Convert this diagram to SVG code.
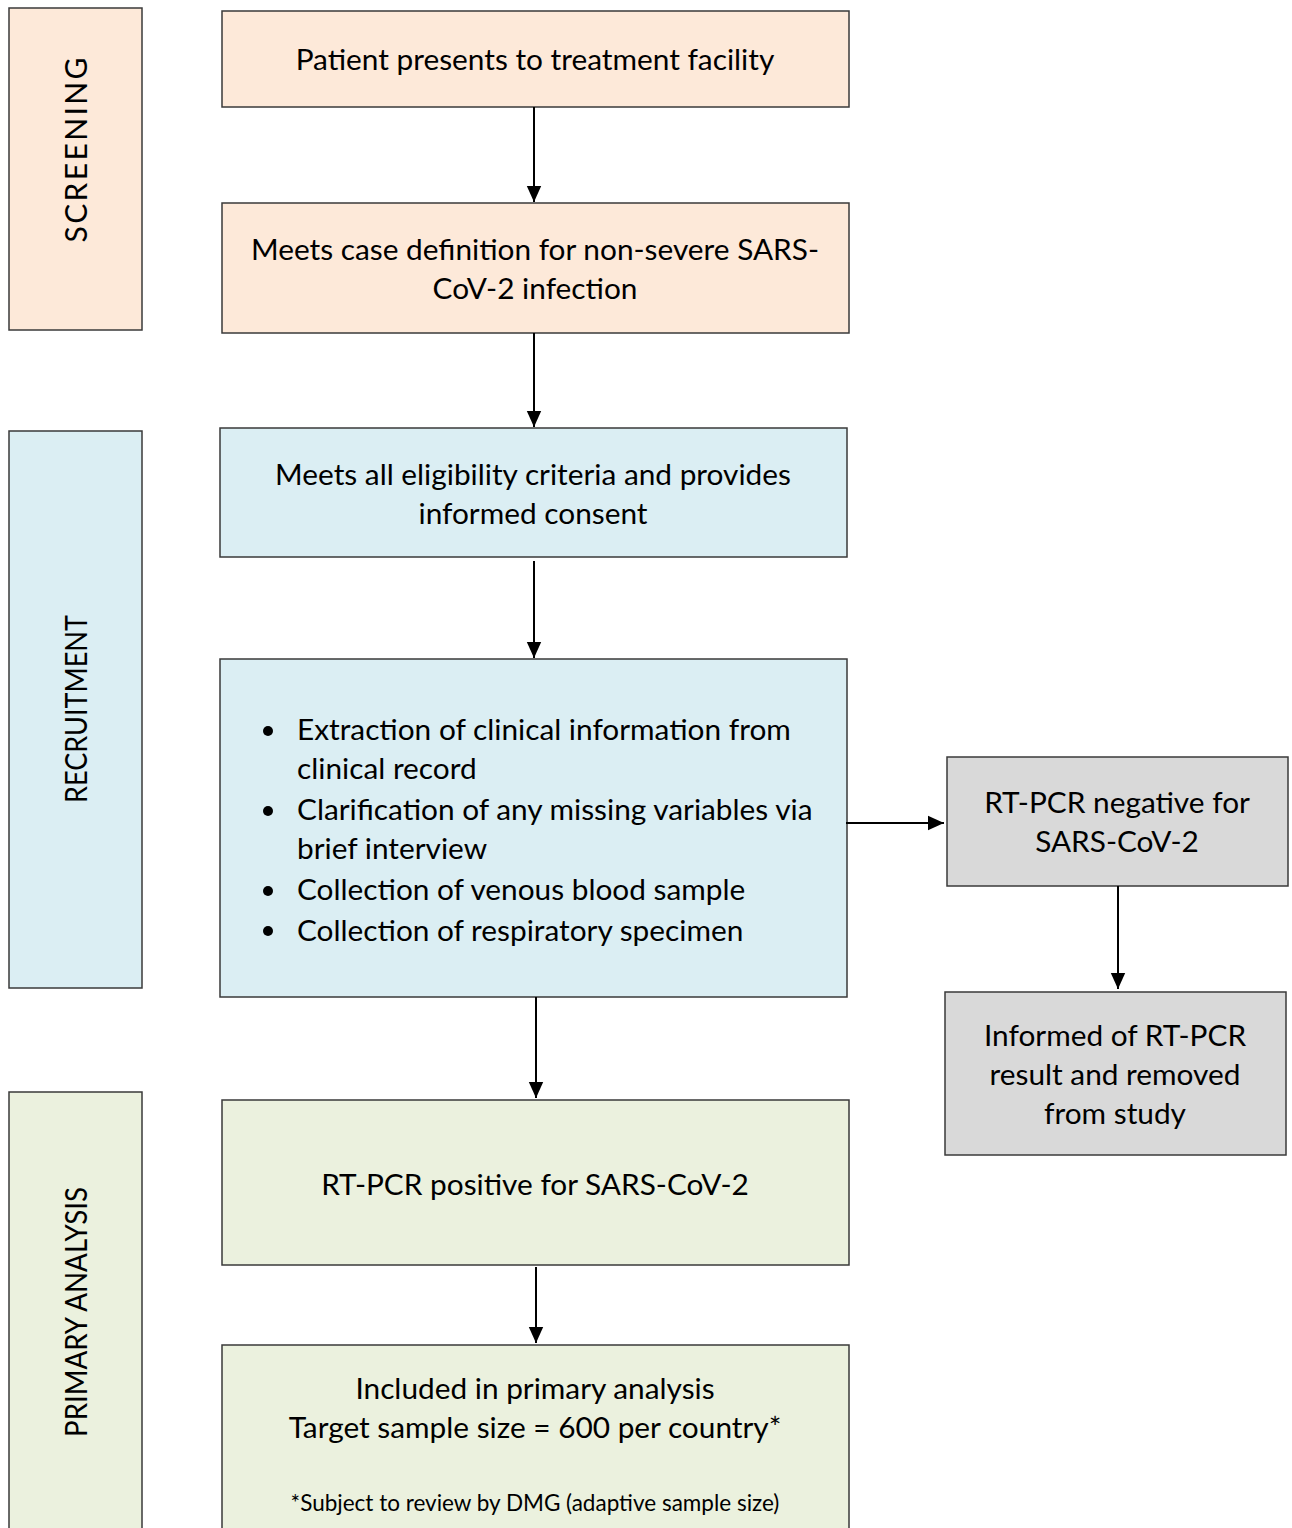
<svg xmlns="http://www.w3.org/2000/svg" width="1292" height="1528" viewBox="0 0 1292 1528">
<defs>
<marker id="ah" viewBox="0 0 10 10" refX="10" refY="5" markerWidth="16" markerHeight="16" markerUnits="userSpaceOnUse" orient="auto">
<path d="M0,0.5 L10,5 L0,9.5 z" fill="#000"/>
</marker>
<style>
rect{stroke:#3a3a3a;stroke-width:1.5}
.pe{fill:#FDE9D9}.bl{fill:#DBEEF3}.gr{fill:#D9D9D9}.gn{fill:#EBF1DE}
text{font-family:Lato,"Liberation Sans",sans-serif;font-size:29.8px;fill:#000;text-anchor:middle}
.lt{text-anchor:start}
.sm{font-size:22.5px}
.side{font-size:30px}
.cn line{stroke:#000;stroke-width:2;marker-end:url(#ah)}
</style>
</defs>
<rect width="1292" height="1528" fill="#fff" style="stroke:none"/>
<g id="screening"><rect class="pe" x="9" y="8" width="133" height="322"/><text class="side" transform="translate(87,150) rotate(-90)" textLength="185" lengthAdjust="spacing">SCREENING</text></g>
<g id="recruitment"><rect class="bl" x="9" y="431" width="133" height="557"/><text class="side" transform="translate(87,709) rotate(-90)" textLength="188" lengthAdjust="spacingAndGlyphs">RECRUITMENT</text></g>
<g id="primary"><rect class="gn" x="9" y="1092" width="133" height="450"/><text class="side" transform="translate(87,1312) rotate(-90)" textLength="250" lengthAdjust="spacingAndGlyphs">PRIMARY ANALYSIS</text></g>
<g id="n1"><rect class="pe" x="222" y="11" width="627" height="96"/><text x="535" y="70">Patient presents to treatment facility</text></g>
<g id="n2"><rect class="pe" x="222" y="203" width="627" height="130"/><text x="535" y="260">Meets case definition for non-severe SARS-</text><text x="535" y="299">CoV-2 infection</text></g>
<g id="n3"><rect class="bl" x="220" y="428" width="627" height="129"/><text x="533" y="485">Meets all eligibility criteria and provides</text><text x="533" y="524">informed consent</text></g>
<g id="n4"><rect class="bl" x="220" y="659" width="627" height="338"/>
<g fill="#000"><circle cx="268" cy="731" r="5"/><circle cx="268" cy="811" r="5"/><circle cx="268" cy="891" r="5"/><circle cx="268" cy="931" r="5"/></g>
<text class="lt" x="297" y="740">Extraction of clinical information from</text>
<text class="lt" x="297" y="779">clinical record</text>
<text class="lt" x="297" y="820">Clarification of any missing variables via</text>
<text class="lt" x="297" y="859">brief interview</text>
<text class="lt" x="297" y="900">Collection of venous blood sample</text>
<text class="lt" x="297" y="941">Collection of respiratory specimen</text>
</g>
<g id="n5"><rect class="gr" x="947" y="757" width="341" height="129"/><text x="1117" y="813">RT-PCR negative for</text><text x="1117" y="852">SARS-CoV-2</text></g>
<g id="n6"><rect class="gr" x="945" y="992" width="341" height="163"/><text x="1115" y="1046">Informed of RT-PCR</text><text x="1115" y="1085">result and removed</text><text x="1115" y="1124">from study</text></g>
<g id="n7"><rect class="gn" x="222" y="1100" width="627" height="165"/><text x="535" y="1195">RT-PCR positive for SARS-CoV-2</text></g>
<g id="n8"><rect class="gn" x="222" y="1345" width="627" height="200"/><text x="535" y="1399">Included in primary analysis</text><text x="535" y="1438">Target sample size = 600 per country*</text><text class="sm" x="535" y="1511">*Subject to review by DMG (adaptive sample size)</text></g>
<g id="connectors" class="cn">
<line x1="534" y1="107" x2="534" y2="202"/>
<line x1="534" y1="333" x2="534" y2="427"/>
<line x1="534" y1="561" x2="534" y2="658"/>
<line x1="536" y1="997" x2="536" y2="1098"/>
<line x1="536" y1="1267" x2="536" y2="1343"/>
<line x1="846" y1="823" x2="944" y2="823"/>
<line x1="1118" y1="886" x2="1118" y2="989"/>
</g>
</svg>
